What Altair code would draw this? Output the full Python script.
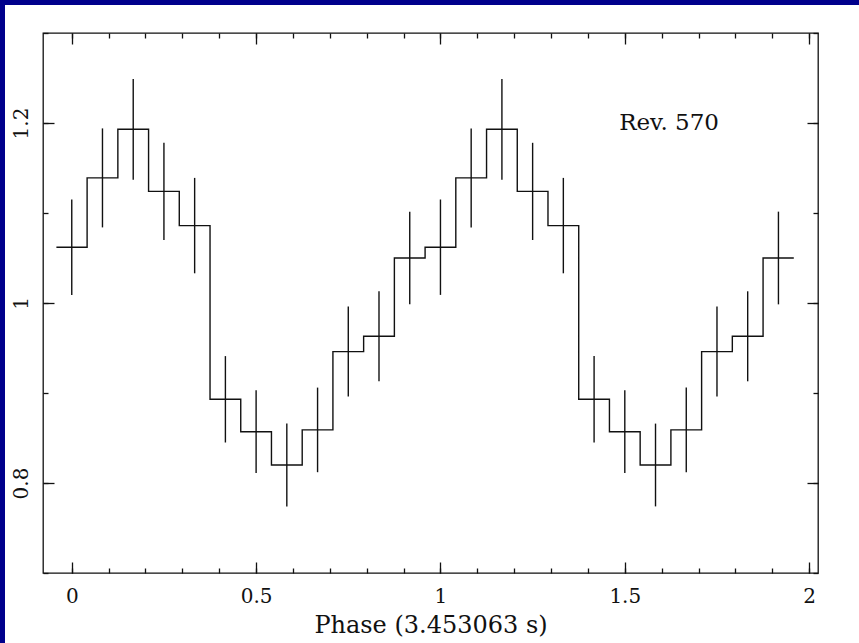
import altair as alt
import pandas as pd

# ---- data (two identical folded cycles, 12 bins each) ----
phase = [0.0, 0.0833, 0.1667, 0.25, 0.3333, 0.4167, 0.5, 0.5833, 0.6667, 0.75, 0.8333, 0.9167,
         1.0, 1.0833, 1.1667, 1.25, 1.3333, 1.4167, 1.5, 1.5833, 1.6667, 1.75, 1.8333, 1.9167]
rate = [1.062, 1.139, 1.193, 1.124, 1.086, 0.893, 0.857, 0.820, 0.859, 0.946, 0.963, 1.050,
        1.062, 1.139, 1.193, 1.124, 1.086, 0.893, 0.857, 0.820, 0.859, 0.946, 0.963, 1.050]
err = [0.053, 0.055, 0.056, 0.054, 0.053, 0.048, 0.046, 0.046, 0.047, 0.050, 0.050, 0.0515,
       0.053, 0.055, 0.056, 0.054, 0.053, 0.048, 0.046, 0.046, 0.047, 0.050, 0.050, 0.0515]
bin_half = 0.04167

x_major = [0, 0.5, 1, 1.5, 2]
x_minor = [0.0, 0.1, 0.2, 0.3, 0.4, 0.5, 0.6, 0.7, 0.8, 0.9, 1.0,
           1.1, 1.2, 1.3, 1.4, 1.5, 1.6, 1.7, 1.8, 1.9, 2.0]
y_major = [0.8, 1.0, 1.2]
y_minor = [0.7, 0.8, 0.9, 1.0, 1.1, 1.2, 1.3]
x_title = "Phase (3.453063 s)"
label_text = "Rev. 570"

# ---- tables ----
df = pd.DataFrame({"phase": phase, "rate": rate, "err": err})
df["lo"] = df["rate"] - df["err"]
df["hi"] = df["rate"] + df["err"]
step = pd.DataFrame({
    "edge": [p - bin_half for p in phase] + [phase[-1] + bin_half],
    "rate": rate + [rate[-1]],
})
ann = pd.DataFrame({"x": [1.62], "y": [1.2], "t": [label_text]})
dummy = pd.DataFrame({"a": [0]})

W, H = 775, 540
FONT = "DejaVu Serif"
INK = "#111111"
BLUE = "#00008c"
xs = alt.Scale(domain=[-0.078, 2.024], nice=False, zero=False)
ys = alt.Scale(domain=[0.7, 1.3], nice=False, zero=False)


def tick_axis(orient, values, size):
    return alt.Axis(orient=orient, values=values, tickSize=size, offset=-size,
                    labels=False, domain=False, grid=False, title=None,
                    tickColor=INK, tickWidth=1.3, zindex=1)


# dark-blue strips along the left and top edge of the picture
strip_left = alt.Chart(dummy).mark_rect(color=BLUE).encode(
    x=alt.value(-43), x2=alt.value(-38), y=alt.value(-33), y2=alt.value(H + 70))
strip_top = alt.Chart(dummy).mark_rect(color=BLUE).encode(
    x=alt.value(-43), x2=alt.value(W + 41), y=alt.value(-33), y2=alt.value(-28))

line = alt.Chart(step).mark_line(interpolate="step-after", color=INK, strokeWidth=1.4).encode(
    x=alt.X("edge:Q", scale=xs, axis=alt.Axis(
        orient="bottom", values=x_major, ticks=False, tickSize=0, domain=False, grid=False,
        format="~g", labelFont=FONT, labelFontSize=20, labelColor=INK, labelPadding=23,
        labelBaseline="middle", labelAlign="center", labelFlush=False, labelOverlap=False,
        title=x_title, titleFont=FONT, titleFontSize=24, titleFontWeight="normal",
        titleColor=INK, titleY=59, titleBaseline="alphabetic", zindex=1)),
    y=alt.Y("rate:Q", scale=ys, axis=alt.Axis(
        orient="left", values=y_major, ticks=False, tickSize=0, domain=False, grid=False,
        format="~g", labelFont=FONT, labelFontSize=20, labelColor=INK, labelPadding=22,
        labelAngle=270, labelAlign="center", labelBaseline="middle", labelFlush=False,
        labelOverlap=False, title=None, zindex=1)),
)

bars = alt.Chart(df).mark_rule(color=INK, strokeWidth=1.4).encode(
    x=alt.X("phase:Q", scale=xs, axis=tick_axis("bottom", x_major, 11)),
    y=alt.Y("lo:Q", scale=ys, axis=tick_axis("left", y_major, 11)),
    y2="hi:Q",
)

minor_bl = alt.Chart(df).mark_point(opacity=0).encode(
    x=alt.X("phase:Q", scale=xs, axis=tick_axis("bottom", x_minor, 5)),
    y=alt.Y("rate:Q", scale=ys, axis=tick_axis("left", y_minor, 5)),
)

text = alt.Chart(ann).mark_text(font=FONT, fontSize=23, color=INK, baseline="middle",
                                align="center").encode(
    x=alt.X("x:Q", scale=xs, axis=tick_axis("top", x_major, 11)),
    y=alt.Y("y:Q", scale=ys, axis=tick_axis("right", y_major, 11)),
    text="t:N",
)

minor_tr = alt.Chart(df).mark_point(opacity=0).encode(
    x=alt.X("phase:Q", scale=xs, axis=tick_axis("top", x_minor, 5)),
    y=alt.Y("rate:Q", scale=ys, axis=tick_axis("right", y_minor, 5)),
)

chart = alt.layer(line, bars, minor_bl, text, minor_tr, strip_left, strip_top).resolve_axis(
    x="independent", y="independent"
).properties(
    width=W, height=H,
    autosize=alt.AutoSizeParams(type="none"),
    padding={"left": 43, "top": 33, "right": 41, "bottom": 70},
    background="white",
).configure_view(stroke=INK, strokeWidth=1.3)

chart.save("out.html", embed_options={"renderer": "svg", "actions": False})
